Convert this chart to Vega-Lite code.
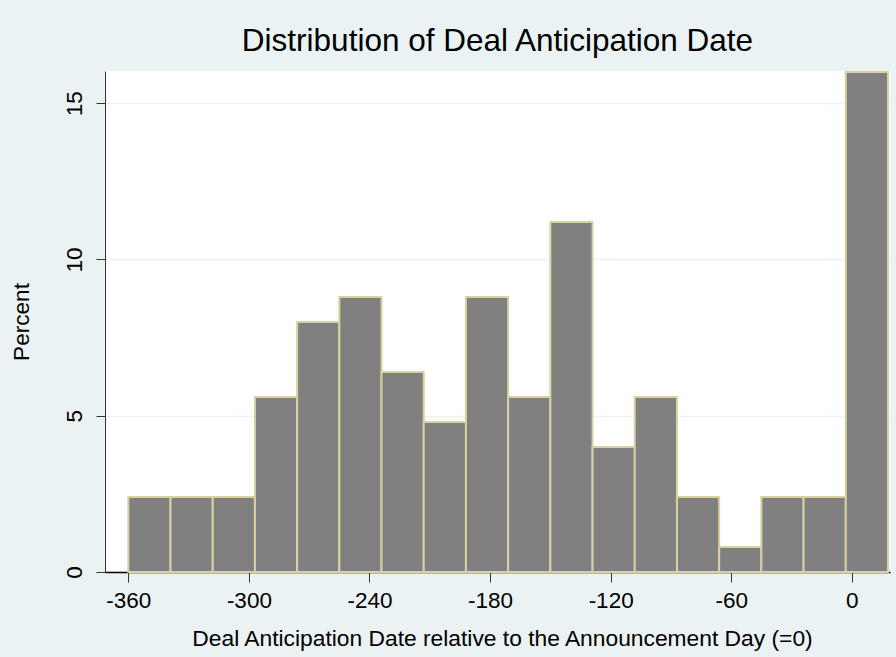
{
  "$schema": "https://vega.github.io/schema/vega-lite/v6.json",
  "autosize": "none",
  "width": 785,
  "height": 501,
  "padding": {"left": 105, "top": 71, "right": 6, "bottom": 85},
  "background": "#EAF2F3",
  "title": {
    "text": "Distribution of Deal Anticipation Date",
    "anchor": "middle",
    "frame": "group",
    "fontSize": 31.5,
    "fontWeight": "normal",
    "font": "Liberation Sans",
    "color": "#000000",
    "baseline": "bottom",
    "offset": -19
  },
  "config": {
    "view": {"fill": "#FFFFFF", "stroke": null},
    "font": "Liberation Sans"
  },
  "data": {
    "values": [
      {"start": -360, "end": -339, "percent": 2.4},
      {"start": -339, "end": -318, "percent": 2.4},
      {"start": -318, "end": -297, "percent": 2.4},
      {"start": -297, "end": -276, "percent": 5.6},
      {"start": -276, "end": -255, "percent": 8.0},
      {"start": -255, "end": -234, "percent": 8.8},
      {"start": -234, "end": -213, "percent": 6.4},
      {"start": -213, "end": -192, "percent": 4.8},
      {"start": -192, "end": -171, "percent": 8.8},
      {"start": -171, "end": -150, "percent": 5.6},
      {"start": -150, "end": -129, "percent": 11.2},
      {"start": -129, "end": -108, "percent": 4.0},
      {"start": -108, "end": -87, "percent": 5.6},
      {"start": -87, "end": -66, "percent": 2.4},
      {"start": -66, "end": -45, "percent": 0.8},
      {"start": -45, "end": -24, "percent": 2.4},
      {"start": -24, "end": -3, "percent": 2.4},
      {"start": -3, "end": 18, "percent": 16.0}
    ]
  },
  "mark": {"type": "rect", "fill": "#808080", "stroke": "#D8D2A0", "strokeWidth": 2},
  "encoding": {
    "x": {
      "field": "start",
      "type": "quantitative",
      "scale": {"domain": [-371.6, 19], "nice": false, "zero": false},
      "axis": {
        "title": "Deal Anticipation Date relative to the Announcement Day (=0)",
        "titleX": 397,
        "values": [-360, -300, -240, -180, -120, -60, 0],
        "labelExpr": "'' + datum.value",
        "grid": false,
        "domainColor": "#000000",
        "domainWidth": 1.5,
        "tickColor": "#333333",
        "tickSize": 10,
        "tickWidth": 1,
        "labelFontSize": 22.5,
        "labelColor": "#000000",
        "labelPadding": 7,
        "labelFlush": false,
        "titleFontSize": 22.8,
        "titleFontWeight": "normal",
        "titleColor": "#000000",
        "titlePadding": 16
      }
    },
    "x2": {"field": "end"},
    "y": {
      "field": "percent",
      "type": "quantitative",
      "scale": {"domain": [0, 16.03], "nice": false},
      "axis": {
        "title": "Percent",
        "values": [0, 5, 10, 15],
        "grid": true,
        "gridColor": "#EAF2F3",
        "gridWidth": 1.5,
        "domainColor": "#333333",
        "domainWidth": 1,
        "tickColor": "#333333",
        "tickSize": 9,
        "tickWidth": 1,
        "labelAngle": -90,
        "labelAlign": "center",
        "labelBaseline": "bottom",
        "labelFontSize": 22.5,
        "labelColor": "#000000",
        "labelPadding": 10,
        "labelFlush": false,
        "titleFontSize": 22.6,
        "titleFontWeight": "normal",
        "titleColor": "#000000",
        "titlePadding": 30
      }
    },
    "y2": {"datum": 0}
  }
}
